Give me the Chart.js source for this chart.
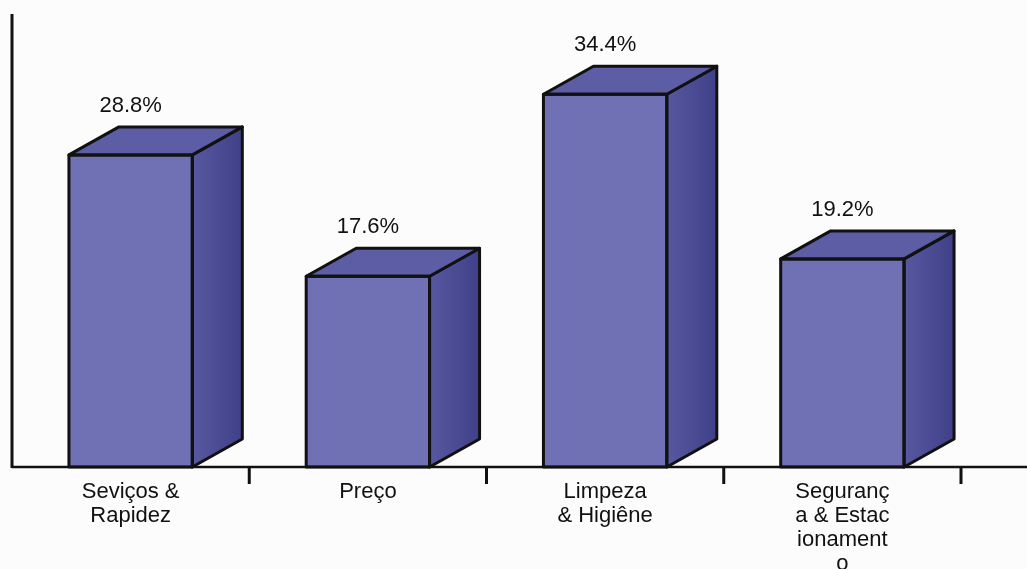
<!DOCTYPE html>
<html>
<head>
<meta charset="utf-8">
<script src="https://cdn.jsdelivr.net/npm/chart.js@4/dist/chart.umd.min.js"></script>
<style>
    html, body { margin: 0; padding: 0; background: #fcfcfc; }
    #wrap { width: 1027px; height: 569px; }
</style>
</head>
<body>
<div id="wrap"><canvas id="chart" width="1027" height="569"></canvas></div>
<script>
// Categories (wrapped as in the printed chart) and percentages
const categories = ['Seviços & Rapidez', 'Preço', 'Limpeza & Higiêne', 'Segurança & Estacionamento'];
const categoryLines = [
    ['Seviços &', 'Rapidez'],
    ['Preço'],
    ['Limpeza', '& Higiêne'],
    ['Seguranç', 'a & Estac', 'ionament', 'o']
];
const percentages = [28.8, 17.6, 34.4, 19.2];

const frontColor = '#7070b4';
const topColor = '#5d5da6';
const depthX = 50;
const depthY = 28;
const labelFont = '22px "Liberation Sans", Arial, sans-serif';

// Draws top and side faces for each bar, then the axes, ticks and labels
const boxPlugin = {
    id: 'box3d',
    afterDatasetsDraw(chart) {
        const ctx = chart.ctx;
        const area = chart.chartArea;
        const xScale = chart.scales.x;
        const meta = chart.getDatasetMeta(0);

        ctx.save();
        ctx.lineJoin = 'round';
        ctx.strokeStyle = '#111';
        ctx.lineWidth = 3;

        meta.data.forEach((bar, i) => {
            const left = bar.x - bar.width / 2;
            const right = bar.x + bar.width / 2;
            const top = bar.y;
            const base = bar.base;

            // side face
            const grad = ctx.createLinearGradient(right, 0, right + depthX, 0);
            grad.addColorStop(0, '#5858a0');
            grad.addColorStop(1, '#404088');
            ctx.fillStyle = grad;
            ctx.beginPath();
            ctx.moveTo(right, top);
            ctx.lineTo(right + depthX, top - depthY);
            ctx.lineTo(right + depthX, base - depthY);
            ctx.lineTo(right, base);
            ctx.closePath();
            ctx.fill();
            ctx.stroke();

            // top face
            ctx.fillStyle = topColor;
            ctx.beginPath();
            ctx.moveTo(left, top);
            ctx.lineTo(left + depthX, top - depthY);
            ctx.lineTo(right + depthX, top - depthY);
            ctx.lineTo(right, top);
            ctx.closePath();
            ctx.fill();
            ctx.stroke();

            // front outline
            ctx.strokeRect(left, top, right - left, base - top);

            // value label
            ctx.fillStyle = '#111';
            ctx.font = labelFont;
            ctx.textAlign = 'center';
            ctx.textBaseline = 'middle';
            ctx.fillText(percentages[i].toFixed(1) + '%', bar.x, top - 49);
        });

        // axes
        ctx.lineWidth = 3;
        ctx.beginPath();
        ctx.moveTo(area.left, area.top);
        ctx.lineTo(area.left, area.bottom + 1);
        ctx.stroke();
        ctx.lineWidth = 2.5;
        ctx.beginPath();
        ctx.moveTo(area.left, area.bottom);
        ctx.lineTo(chart.width, area.bottom);
        ctx.stroke();

        // tick marks between categories and category labels
        const step = (area.right - area.left) / categories.length;
        ctx.lineWidth = 3;
        ctx.fillStyle = '#111';
        ctx.font = labelFont;
        ctx.textAlign = 'center';
        ctx.textBaseline = 'middle';
        categories.forEach((c, i) => {
            const cx = xScale.getPixelForValue(i);
            const tx = cx + step / 2;
            ctx.beginPath();
            ctx.moveTo(tx, area.bottom);
            ctx.lineTo(tx, area.bottom + 17);
            ctx.stroke();
            categoryLines[i].forEach((line, j) => {
                ctx.fillText(line, cx, area.bottom + 25 + j * 24);
            });
        });
        ctx.restore();
    }
};

new Chart(document.getElementById('chart'), {
    type: 'bar',
    data: {
        labels: categories,
        datasets: [{
            data: percentages,
            backgroundColor: frontColor,
            borderWidth: 0,
            categoryPercentage: 1,
            barPercentage: 0.52
        }]
    },
    options: {
        responsive: false,
        animation: false,
        layout: { padding: { left: 12, right: 66, top: 14, bottom: 102 } },
        plugins: {
            legend: { display: false },
            tooltip: { enabled: false }
        },
        scales: {
            x: { display: false },
            y: { display: false, min: 0, max: 41.8 }
        }
    },
    plugins: [boxPlugin]
});
</script>
</body>
</html>
